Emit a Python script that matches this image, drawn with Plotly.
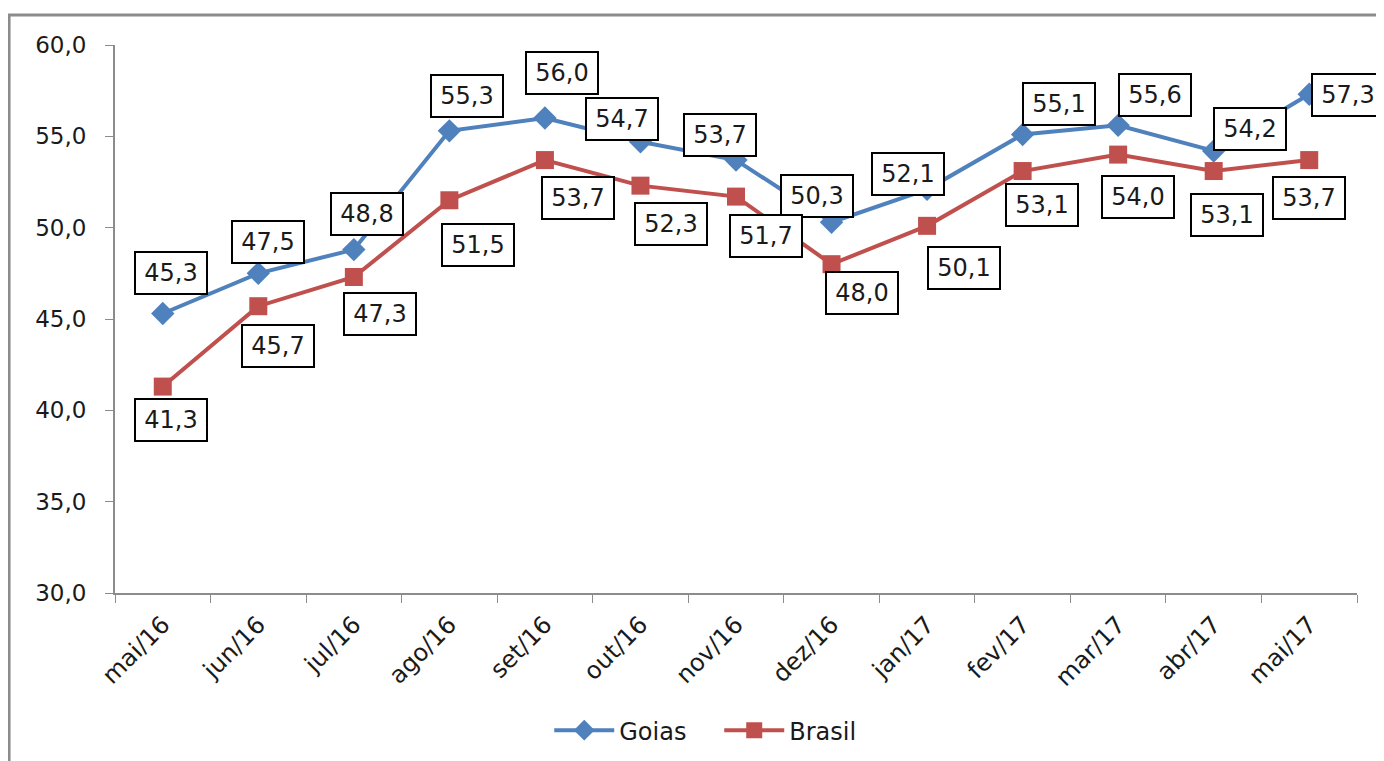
import plotly.graph_objects as go

categories = ["mai/16", "jun/16", "jul/16", "ago/16", "set/16", "out/16", "nov/16",
              "dez/16", "jan/17", "fev/17", "mar/17", "abr/17", "mai/17"]
goias = [45.3, 47.5, 48.8, 55.3, 56.0, 54.7, 53.7, 50.3, 52.1, 55.1, 55.6, 54.2, 57.3]
brasil = [41.3, 45.7, 47.3, 51.5, 53.7, 52.3, 51.7, 48.0, 50.1, 53.1, 54.0, 53.1, 53.7]
y_ticks = [30, 35, 40, 45, 50, 55, 60]

# label box offsets in pixels (dx, dy up)
goias_off = [(8, 41), (10, 31), (13, 36), (18, 35), (17, 45), (-18, 23), (-16, 25),
             (-15, 26), (-19, 15), (36, 31), (37, 30), (36, 22), (39, -1)]
brasil_off = [(8, -33), (20, -40), (26, -37), (29, -45), (33, -38), (31, -38), (30, -39),
              (30, -29), (37, -42), (19, -34), (20, -42), (13, -44), (0, -38)]

FONT = "Verdana, DejaVu Sans, sans-serif"
BLUE = "#4F81BD"
RED = "#C0504D"
TXT = "#1a1a1a"

fig = go.Figure()
fig.add_trace(go.Scatter(x=categories, y=goias, name="Goias", mode="lines+markers",
                         line=dict(color=BLUE, width=4),
                         marker=dict(symbol="diamond", size=18, color=BLUE)))
fig.add_trace(go.Scatter(x=categories, y=brasil, name="Brasil", mode="lines+markers",
                         line=dict(color=RED, width=4),
                         marker=dict(symbol="square", size=18, color=RED)))

def fmt(v):
    return f"{v:.1f}".replace(".", ",")

annotations = []
for series, offs in ((goias, goias_off), (brasil, brasil_off)):
    for c, v, (dx, dy) in zip(categories, series, offs):
        annotations.append(dict(x=c, y=v, xref="x", yref="y", text=fmt(v), showarrow=False,
                                xshift=dx, yshift=dy, bgcolor="white", bordercolor="black",
                                borderwidth=2, borderpad=6, width=58,
                                font=dict(family=FONT, size=24, color=TXT)))

fig.update_layout(
    width=1384, height=761,
    margin=dict(l=107, r=35, t=37, b=176),
    paper_bgcolor="white", plot_bgcolor="white",
    font=dict(family=FONT, size=24, color=TXT),
    showlegend=True,
    legend=dict(orientation="h", x=0.4865, xanchor="center", y=-0.21, yanchor="top",
                itemwidth=60, entrywidth=95, entrywidthmode="pixels",
                font=dict(family=FONT, size=24, color=TXT)),
    annotations=annotations,
    shapes=[dict(type="rect", xref="paper", yref="paper", x0=-0.0853, x1=1.03,
                 y0=-0.35, y1=1.0547, line=dict(color="#8c8c8c", width=3),
                 fillcolor="rgba(0,0,0,0)", layer="below")],
)
fig.update_xaxes(type="category", tickson="boundaries", ticks="outside", ticklen=8,
                 range=[-0.5, len(categories) - 0.5],
                 tickcolor="#8c8c8c", showline=True, linecolor="#8c8c8c", linewidth=2,
                 showgrid=False, tickangle=-45, zeroline=False, ticklabelstandoff=6,
                 tickfont=dict(family=FONT, size=24, color=TXT))
fig.update_yaxes(range=[30, 60], tickvals=y_ticks, ticktext=[fmt(v) for v in y_ticks],
                 ticks="outside", ticklen=8, tickcolor="#8c8c8c", showline=True,
                 linecolor="#8c8c8c", linewidth=2, showgrid=False, zeroline=False,
                 ticklabelstandoff=14,
                 tickfont=dict(family=FONT, size=23, color=TXT))

fig.write_html("out.html")
